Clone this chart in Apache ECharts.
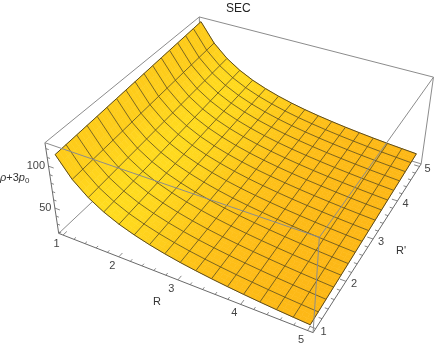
<!DOCTYPE html>
<html><head><meta charset="utf-8"><style>html,body{margin:0;background:#fff}#c{width:436px;height:346px}</style></head>
<body><div id="c"></div>
<script src="https://cdn.jsdelivr.net/npm/echarts@6/dist/echarts.min.js"></script>
<script>
const title = 'SEC';
const rValues  = [1,1.25,1.5,1.75,2,2.25,2.5,2.75,3,3.25,3.5,3.75,4,4.25,4.5,4.75,5];
const rpValues = [1,1.25,1.5,1.75,2,2.25,2.5,2.75,3,3.25,3.5,3.75,4,4.25,4.5,4.75,5];
// surface height: one row per R' value, one column per R value
const zRows = [
[111.7,88.9,73.6,62.7,54.5,48.2,43.1,38.9,35.4,32.5,30.0,27.8,25.9,24.2,22.7,21.4,20.2],
[112.5,89.7,74.4,63.5,55.3,49.0,43.9,39.7,36.2,33.3,30.8,28.6,26.7,25.0,23.5,22.2,21.0],
[113.3,90.5,75.2,64.3,56.1,49.8,44.7,40.5,37.0,34.1,31.6,29.4,27.5,25.8,24.3,23.0,21.8],
[114.1,91.3,76.0,65.1,56.9,50.6,45.5,41.3,37.8,34.9,32.4,30.2,28.3,26.6,25.1,23.8,22.6],
[114.9,92.1,76.8,65.9,57.7,51.4,46.3,42.1,38.6,35.7,33.2,31.0,29.1,27.4,25.9,24.6,23.4],
[115.7,92.9,77.6,66.7,58.5,52.2,47.1,42.9,39.4,36.5,34.0,31.8,29.9,28.2,26.7,25.4,24.2],
[116.5,93.7,78.4,67.5,59.3,53.0,47.9,43.7,40.2,37.3,34.8,32.6,30.7,29.0,27.5,26.2,25.0],
[117.3,94.5,79.2,68.3,60.1,53.8,48.7,44.5,41.0,38.1,35.6,33.4,31.5,29.8,28.3,27.0,25.8],
[118.1,95.3,80.0,69.1,60.9,54.6,49.5,45.3,41.8,38.9,36.4,34.2,32.3,30.6,29.1,27.8,26.6],
[118.9,96.1,80.8,69.9,61.7,55.4,50.3,46.1,42.6,39.7,37.2,35.0,33.1,31.4,29.9,28.6,27.4],
[119.7,96.9,81.6,70.7,62.5,56.2,51.1,46.9,43.4,40.5,38.0,35.8,33.9,32.2,30.7,29.4,28.2],
[120.5,97.7,82.4,71.5,63.3,57.0,51.9,47.7,44.2,41.3,38.8,36.6,34.7,33.0,31.5,30.2,29.0],
[121.3,98.5,83.2,72.3,64.1,57.8,52.7,48.5,45.0,42.1,39.6,37.4,35.5,33.8,32.3,31.0,29.8],
[122.1,99.3,84.0,73.1,64.9,58.6,53.5,49.3,45.8,42.9,40.4,38.2,36.3,34.6,33.1,31.8,30.6],
[122.9,100.1,84.8,73.9,65.7,59.4,54.3,50.1,46.6,43.7,41.2,39.0,37.1,35.4,33.9,32.6,31.4],
[123.7,100.9,85.6,74.7,66.5,60.2,55.1,50.9,47.4,44.5,42.0,39.8,37.9,36.2,34.7,33.4,32.2],
[124.5,101.7,86.4,75.5,67.3,61.0,55.9,51.7,48.2,45.3,42.8,40.6,38.7,37.0,35.5,34.2,33.0]
];
const rTicks = [1,2,3,4,5];
const rpTicks = [1,2,3,4,5];
const zTicks = [50,100];
const rMinor = [1.2,1.4,1.6,1.8,2.2,2.4,2.6,2.8,3.2,3.4,3.6,3.8,4.2,4.4,4.6,4.8];
const zMinor = [20,30,40,60,70,80,90,110,120];
const rRange = [0.92,5.08], zRange = [18.1,126.6];

// camera: fitted from where the plot-box corners fall on the page
const boxCorners = [[0,0,0,59,234],[1,0,0,313,333],[1,1,0,421,163],[0,0,1,45,142],[1,0,1,319,237],[1,1,1,434,78],[0,1,1,199,17]];
function solve(A,b){const n=A.length;A=A.map((r,i)=>[...r,b[i]]);for(let i=0;i<n;i++){let p=i;for(let k=i;k<n;k++)if(Math.abs(A[k][i])>Math.abs(A[p][i]))p=k;[A[i],A[p]]=[A[p],A[i]];for(let k=0;k<n;k++)if(k!==i){const f=A[k][i]/A[i][i];for(let j=i;j<=n;j++)A[k][j]-=f*A[i][j];}}return A.map((r,i)=>r[n]/r[i]);}
const M=[],B=[];for(const [u,v,w,x,y] of boxCorners){M.push([u,v,w,1,0,0,0,0,-x*u,-x*v,-x*w]);B.push(x);M.push([0,0,0,0,u,v,w,1,-y*u,-y*v,-y*w]);B.push(y);}
const idx=[...Array(11).keys()];
const P=solve(idx.map(i=>idx.map(j=>M.reduce((s,r)=>s+r[i]*r[j],0))),idx.map(i=>M.reduce((s,r,k)=>s+r[i]*B[k],0)));
const project=(u,v,w)=>{const d=P[8]*u+P[9]*v+P[10]*w+1;return [(P[0]*u+P[1]*v+P[2]*w+P[3])/d,(P[4]*u+P[5]*v+P[6]*w+P[7])/d];};
const U=r=>(r-rRange[0])/(rRange[1]-rRange[0]);
const W=z=>(z-zRange[0])/(zRange[1]-zRange[0]);

// shading: yellow where the surface faces the light, orange elsewhere
const cOrange=[253,176,20], cYellow=[255,220,30];
function nodeColor(j,i){
  const a=Math.max(0,i-1),b=Math.min(16,i+1);
  const s=-(W(zRows[j][b])-W(zRows[j][a]))/(U(rValues[b])-U(rValues[a]));
  const th=Math.atan(s)*180/Math.PI;
  const sig=th<55?34:28;
  const t=Math.exp(-Math.pow((th-55)/sig,2))*(1-0.06*j/16);
  return cOrange.map((c,k)=>c+(cYellow[k]-c)*t);
}
const nodeColors=zRows.map((row,j)=>row.map((_,i)=>nodeColor(j,i)));
const lerp=(a,b,t)=>a+(b-a)*t;
const SUB=3;

const cells=[];for(let j=0;j<16;j++)for(let i=0;i<16;i++)cells.push([i,j]);
function renderCell(params,api){
  const i=api.value(0),j=api.value(1),children=[];
  const Z=(a,b)=>lerp(lerp(zRows[j][i],zRows[j][i+1],a),lerp(zRows[j+1][i],zRows[j+1][i+1],a),b);
  const pt=(a,b)=>{const q=project(U(lerp(rValues[i],rValues[i+1],a)),U(lerp(rpValues[j],rpValues[j+1],b)),W(Z(a,b)));return api.coord(q);};
  const col=(a,b)=>{const c=[0,1,2].map(k=>lerp(lerp(nodeColors[j][i][k],nodeColors[j][i+1][k],a),lerp(nodeColors[j+1][i][k],nodeColors[j+1][i+1][k],a),b));return `rgb(${c.map(Math.round).join(',')})`;};
  for(let a=0;a<SUB;a++)for(let b=0;b<SUB;b++){
    const a0=a/SUB,a1=(a+1)/SUB,b0=b/SUB,b1=(b+1)/SUB,f=col((a0+a1)/2,(b0+b1)/2);
    children.push({type:'polygon',shape:{points:[pt(a0,b0),pt(a1,b0),pt(a1,b1),pt(a0,b1)]},style:{fill:f,stroke:f,lineWidth:0.6}});
  }
  return {type:'group',children};
}
const meshColor='rgba(88,74,30,0.88)', edgeColor='#5a4a20';
const meshLines=[];
rpValues.forEach((rp,j)=>meshLines.push({pts:rValues.map((r,i)=>project(U(r),U(rp),W(zRows[j][i]))),edge:j===0||j===16}));
rValues.forEach((r,i)=>meshLines.push({pts:rpValues.map((rp,j)=>project(U(r),U(rp),W(zRows[j][i]))),edge:i===0||i===16}));
function renderMesh(params,api){
  const m=meshLines[params.dataIndex];
  return {type:'polyline',shape:{points:m.pts.map(p=>api.coord(p))},style:{fill:null,stroke:m.edge?edgeColor:meshColor,lineWidth:m.edge?1:0.9}};
}
const c=(u,v,w)=>project(u,v,w);
const boxGray='#8c8c8c', axisGray='#6a6a6a';
const backEdges=[[c(0,0,0),c(0,1,0)],[c(0,1,0),c(1,1,0)],[c(0,1,0),c(0,1,1)]];
const axisEdges=[[c(0,0,0),c(1,0,0)],[c(1,0,0),c(1,1,0)],[c(0,0,0),c(0,0,1)]];
const frontEdges=[[c(0,0,1),c(1,0,1)],[c(1,0,1),c(1,1,1)],[c(1,0,0),c(1,0,1)],[c(1,1,0),c(1,1,1)],[c(0,1,1),c(1,1,1)],[c(0,0,1),c(0,1,1)]];
const rTickSegs=[...rTicks.map(r=>[r,0.022]),...rMinor.map(r=>[r,0.012])].map(([r,l])=>[c(U(r),0,0),c(U(r),l,0)]);
const rpTickSegs=[...rpTicks.map(r=>[r,0.022]),...rMinor.map(r=>[r,0.012])].map(([r,l])=>[c(1,U(r),0),c(1-l,U(r),0)]);
const zTickSegs=[...zTicks.map(z=>[z,0.022]),...zMinor.map(z=>[z,0.012])].map(([z,l])=>[c(0,0,W(z)),c(l,0,W(z))]);
const seg=(list,color,w)=>({type:'custom',coordinateSystem:'cartesian2d',silent:true,animation:false,clip:false,
  data:list.map((_,i)=>[i,0]),
  renderItem:(p,api)=>{const s=list[p.dataIndex];return {type:'line',shape:{x1:api.coord(s[0])[0],y1:api.coord(s[0])[1],x2:api.coord(s[1])[0],y2:api.coord(s[1])[1]},style:{stroke:color,lineWidth:w}};}});
const labelFont='11px "Liberation Sans"';
const labels=[];
rTicks.forEach(r=>{const q=c(U(r),0,0);labels.push({text:String(r),x:q[0]-6.5,y:q[1]+9,align:'center'});});
rpTicks.forEach(r=>{const q=c(1,U(r),0);labels.push({text:String(r),x:q[0]+8,y:q[1]+3,align:'center'});});
zTicks.forEach(z=>{const q=c(0,0,W(z));labels.push({text:String(z),x:q[0]-3.5,y:q[1],align:'right'});});
const axisNames=[{text:'R',x:157,y:302,align:'center'},{text:"R'",x:401,y:251,align:'center'}];
const textSeries=(list,color)=>({type:'custom',coordinateSystem:'cartesian2d',silent:true,animation:false,clip:false,z:9,
  data:list.map((_,i)=>[i,0]),
  renderItem:(p)=>{const t=list[p.dataIndex];return {type:'text',x:t.x,y:t.y,style:{text:t.text,fill:color,font:labelFont,align:t.align,verticalAlign:'middle'}};}});

const chart=echarts.init(document.getElementById('c'),null,{renderer:'canvas',width:436,height:346});
chart.setOption({
  animation:false,backgroundColor:'#fff',
  title:{text:title,left:226,top:3,padding:0,textStyle:{fontFamily:'Liberation Sans',fontSize:12,fontWeight:'normal',color:'#222'}},
  grid:{left:0,right:0,top:0,bottom:0},
  xAxis:{type:'value',min:0,max:436,show:false},
  yAxis:{type:'value',min:0,max:346,inverse:true,show:false},
  series:[
    {...seg(backEdges,boxGray,1),z:1},
    {...seg(axisEdges,axisGray,1),z:1},
    {...seg(rTickSegs,axisGray,0.8),z:1},
    {...seg(rpTickSegs,axisGray,0.8),z:1},
    {...seg(zTickSegs,axisGray,0.8),z:1},
    {type:'custom',coordinateSystem:'cartesian2d',silent:true,animation:false,clip:false,z:2,data:cells,renderItem:renderCell},
    {type:'custom',coordinateSystem:'cartesian2d',silent:true,animation:false,clip:false,z:3,data:meshLines.map((_,i)=>[i,0]),renderItem:renderMesh},
    {...seg(frontEdges,boxGray,1),z:4},
    textSeries(labels,'#444'),
    textSeries(axisNames,'#333'),
    {type:'custom',coordinateSystem:'cartesian2d',silent:true,animation:false,clip:false,z:9,data:[[0,0]],
      renderItem:()=>({type:'text',x:0,y:178,style:{text:'{i|ρ}+3{i|p}{s|0}',fill:'#333',font:labelFont,verticalAlign:'middle',
        rich:{i:{fontStyle:'italic',fontFamily:'Liberation Sans',fontSize:11,fill:'#333'},s:{fontFamily:'Liberation Sans',fontSize:8,fill:'#333',padding:[6,0,0,0]}}}})}
  ]
});
</script></body></html>
